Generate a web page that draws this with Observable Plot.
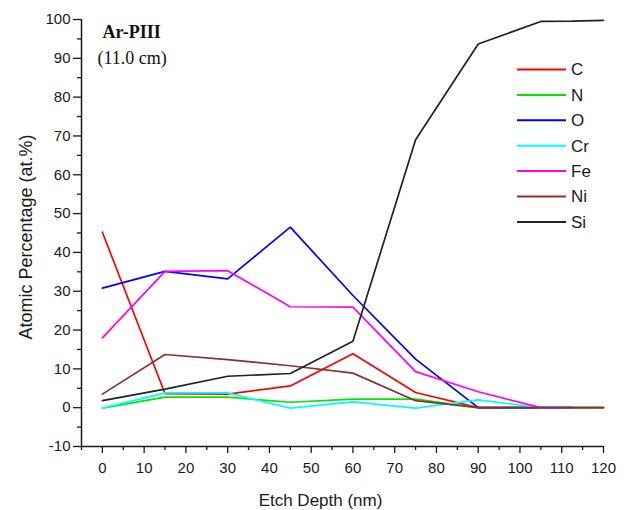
<!DOCTYPE html>
<html><head><meta charset="utf-8">
<script src="https://cdn.jsdelivr.net/npm/d3@7"></script>
<script src="https://cdn.jsdelivr.net/npm/@observablehq/plot@0.6"></script>
<style>
body{margin:0;background:#fff}
#chart{position:relative;width:627px;height:510px;font-family:"Liberation Sans",Arial,sans-serif}
#legend{position:absolute;left:0;top:0}
</style></head><body><div id="chart"></div>
<script>
const depth = [0, 15, 30, 45, 60, 75, 90, 105, 112.5, 120];
const elements = ["C", "N", "O", "Cr", "Fe", "Ni", "Si"];
const colors = ["#ff0000", "#00e600", "#0000ff", "#00ffff", "#ff00ff", "#8b3030", "#222222"];
const C  = [45.2, 3.6, 3.5, 5.6, 13.9, 3.9, 0, 0, 0, 0];
const N  = [-0.1, 2.7, 2.7, 1.4, 2.2, 2.2, 0, 0, 0, 0];
const O  = [30.8, 35.1, 33.2, 46.5, 28.9, 12.5, 0, 0, 0, null];
const Cr = [-0.1, 3.8, 3.8, -0.1, 1.5, -0.1, 2.0, 0, 0, null];
const Fe = [18.0, 35.1, 35.3, 26.0, 25.9, 9.3, 4.1, 0, 0, null];
const Ni = [3.5, 13.7, 12.4, 10.8, 8.9, 1.8, 0, 0, 0, 0];
const Si = [1.8, 4.8, 8.1, 8.8, 17.1, 69.0, 93.7, 99.5, 99.6, 99.8];
const xTicks = [0, 10, 20, 30, 40, 50, 60, 70, 80, 90, 100, 110, 120];
const yTicks = [-10, 0, 10, 20, 30, 40, 50, 60, 70, 80, 90, 100];
const title = "Ar-PIII";
const subtitle = "(11.0 cm)";
const xLabel = "Etch Depth (nm)";
const yLabel = "Atomic Percentage (at.%)";

const seriesValues = [C, N, O, Cr, Fe, Ni, Si];
const rows = [];
elements.forEach((el, k) => {
  seriesValues[k].forEach((v, i) => { if (v != null) rows.push({element: el, depth: depth[i], value: v}); });
});
const xMinor = xTicks.map(t => t - 5);
const yMinor = yTicks.slice(1).map(t => t - 5);
const sans = "Liberation Sans, Arial, sans-serif";
const serif = "Liberation Serif, Times New Roman, serif";
const plain = d => String(d);

const chart = Plot.plot({
  width: 627, height: 510,
  marginLeft: 81, marginRight: 24, marginTop: 19, marginBottom: 64,
  x: {domain: [-5, 120]},
  y: {domain: [-10, 100]},
  color: {domain: elements, range: colors},
  style: {fontFamily: sans, fontSize: "15px", color: "#1a1a1a", background: "#fff"},
  marks: [
    Plot.axisX({ticks: xTicks, tickSize: 7, tickPadding: 9, tickFormat: plain, label: null, fontSize: 15, stroke: "#1a1a1a", strokeWidth: 1.3}),
    Plot.axisX({ticks: xMinor, tickSize: 4, tickFormat: () => "", label: null, stroke: "#1a1a1a", strokeWidth: 1.3}),
    Plot.axisY({ticks: yTicks, tickSize: 8, tickPadding: 3, tickFormat: plain, label: null, fontSize: 15, stroke: "#1a1a1a", strokeWidth: 1.3}),
    Plot.axisY({ticks: yMinor, tickSize: 4, tickFormat: () => "", label: null, stroke: "#1a1a1a", strokeWidth: 1.3}),
    Plot.ruleX([-5], {stroke: "#1a1a1a", strokeWidth: 1.5}),
    Plot.ruleY([-10], {stroke: "#1a1a1a", strokeWidth: 1.5}),
    Plot.line(rows, {x: "depth", y: "value", z: "element", stroke: "element", strokeWidth: 1.7, strokeLinejoin: "miter"}),
    Plot.text([title], {frameAnchor: "top-left", textAnchor: "start", lineAnchor: "middle", dx: 21, dy: 13, fontFamily: serif, fontWeight: "bold", fontSize: 18, fill: "#111"}),
    Plot.text([subtitle], {frameAnchor: "top-left", textAnchor: "start", lineAnchor: "middle", dx: 16, dy: 39, fontFamily: serif, fontSize: 18, fill: "#111"}),
    Plot.text([xLabel], {frameAnchor: "bottom", textAnchor: "middle", lineAnchor: "middle", dx: -22, dy: 54, fontSize: 17, fill: "#1a1a1a"}),
    Plot.text([yLabel], {frameAnchor: "left", textAnchor: "middle", rotate: -90, lineAnchor: "middle", dx: -55, dy: 4, fontSize: 18, fill: "#1a1a1a"})
  ]
});
document.getElementById("chart").appendChild(chart);

// legend overlay
const ns = "http://www.w3.org/2000/svg";
const leg = document.createElementNS(ns, "svg");
leg.setAttribute("id", "legend");
leg.setAttribute("width", 627);
leg.setAttribute("height", 510);
leg.style.pointerEvents = "none";
elements.forEach((el, i) => {
  const y = 69.5 + i * 25.4;
  const ln = document.createElementNS(ns, "line");
  ln.setAttribute("x1", 517); ln.setAttribute("x2", 566);
  ln.setAttribute("y1", y); ln.setAttribute("y2", y);
  ln.setAttribute("stroke", colors[i]); ln.setAttribute("stroke-width", 2);
  leg.appendChild(ln);
  const tx = document.createElementNS(ns, "text");
  tx.setAttribute("x", 571); tx.setAttribute("y", y);
  tx.setAttribute("dy", "0.35em");
  tx.setAttribute("font-family", sans);
  tx.setAttribute("font-size", 17);
  tx.setAttribute("fill", "#1a1a1a");
  tx.textContent = el;
  leg.appendChild(tx);
});
document.getElementById("chart").appendChild(leg);
</script>
</body></html>
